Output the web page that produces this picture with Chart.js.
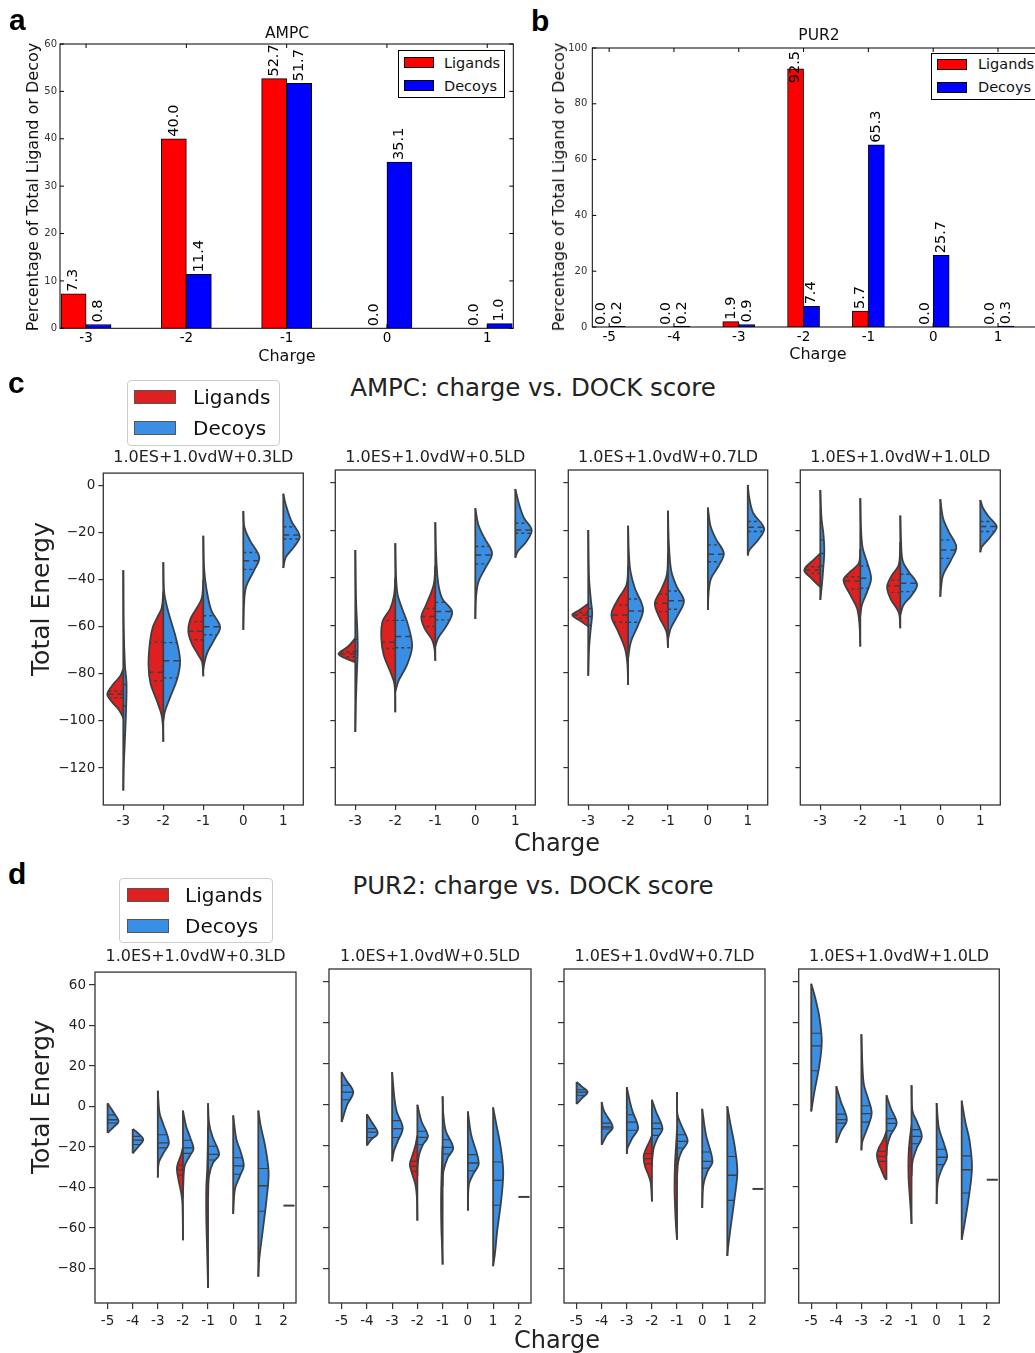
<!DOCTYPE html>
<html><head><meta charset="utf-8">
<script src="https://cdn.jsdelivr.net/npm/chart.js@4.4.1/dist/chart.umd.min.js"></script>
<style>
html,body{margin:0;padding:0;width:1035px;height:1353px;overflow:hidden;background:#fff;font-family:"DejaVu Sans",sans-serif;}
.t{position:absolute;white-space:nowrap;transform:translate(-50%,-50%);color:#111;line-height:1;}
.rot{transform:translate(-50%,-50%) rotate(-90deg);}
.pl{position:absolute;font-family:"Liberation Sans",Arial,sans-serif;font-weight:bold;font-size:30px;line-height:1;color:#000;}
canvas{position:absolute;}
.leg{position:absolute;background:#fff;box-sizing:border-box;}
.leg div{position:absolute;box-sizing:border-box;}
.leg span{position:absolute;white-space:nowrap;transform:translateY(-50%);line-height:1;color:#111;}
</style></head><body>
<script>
// ---------------- DATA ----------------
const SERIES = ['Ligands', 'Decoys'];
const SCORE_TERMS = ['1.0ES+1.0vdW+0.3LD', '1.0ES+1.0vdW+0.5LD', '1.0ES+1.0vdW+0.7LD', '1.0ES+1.0vdW+1.0LD'];

// Panel a / b: percentage of total ligands or decoys per charge
const AMPC_CHARGES = [-3, -2, -1, 0, 1];
const AMPC_LIGANDS_PCT = [7.3, 40.0, 52.7, 0.0, 0.0];
const AMPC_DECOYS_PCT = [0.8, 11.4, 51.7, 35.1, 1.0];
const AMPC_PCT_TICKS = [0, 10, 20, 30, 40, 50, 60];

const PUR2_CHARGES = [-5, -4, -3, -2, -1, 0, 1];
const PUR2_LIGANDS_PCT = [0.0, 0.0, 1.9, 92.5, 5.7, 0.0, 0.0];
const PUR2_DECOYS_PCT = [0.2, 0.2, 0.9, 7.4, 65.3, 25.7, 0.3];
const PUR2_PCT_TICKS = [0, 20, 40, 60, 80, 100];

// Panel c / d: split violins. Row = [charge, [[energy, half-width], ...], [upper quartile, median, lower quartile]]
const AMPC_VIOLIN_CHARGES = [-3, -2, -1, 0, 1];
const AMPC_ENERGY_TICKS = [0, -20, -40, -60, -80, -100, -120];

const AMPC_LIG_03 = [
  [-3, [[-78,0],[-81,0.08],[-85,0.28],[-88.7,0.40],[-92,0.28],[-95,0.12],[-98,0.02],[-99,0]], [-87.3,-88.7,-90.1]],
  [-2, [[-45,0],[-52,0.04],[-56,0.15],[-60,0.26],[-66,0.33],[-76,0.37],[-84,0.32],[-91,0.17],[-97,0.05],[-102,0.01],[-108.8,0]], [-66.5,-79.3,-83]],
  [-1, [[-40,0],[-48,0.04],[-53,0.2],[-57,0.33],[-62,0.375],[-67,0.29],[-72,0.125],[-75,0.03],[-81,0]], [-57.8,-61.9,-65.5]]
];
const AMPC_DEC_03 = [
  [-3, [[-36,0],[-60,0.01],[-76,0.04],[-84,0.08],[-95,0.07],[-108,0.04],[-120,0.01],[-129.5,0]], [-84.5,-93.6,-106]],
  [-2, [[-32.6,0],[-45,0.02],[-52,0.1],[-58,0.2],[-65,0.32],[-74.4,0.42],[-82,0.35],[-90,0.17],[-96,0.04],[-100,0]], [-66.7,-74.4,-81.7]],
  [-1, [[-21.3,0],[-35,0.02],[-44,0.08],[-53,0.2],[-60,0.42],[-65,0.29],[-71,0.1],[-76,0.02],[-78,0]], [-55.3,-60,-63.4]],
  [0, [[-10.8,0],[-17.8,0.03],[-23.4,0.17],[-30.5,0.4],[-36,0.27],[-43,0.07],[-50,0.02],[-61.3,0]], [-28.4,-31.9,-35.6]],
  [1, [[-3.5,0],[-8,0.06],[-15,0.2],[-21.6,0.41],[-26,0.27],[-30.5,0.06],[-35,0]], [-17.5,-21,-22.7]]
];
const AMPC_LIG_05 = [
  [-3, [[-65.5,0],[-69,0.18],[-72.1,0.42],[-73.8,0.27],[-75.6,0]], [-71.2,-72.1,-73.3]],
  [-2, [[-40,0],[-47.3,0.03],[-53,0.125],[-58.5,0.32],[-65.5,0.35],[-72.6,0.29],[-79.6,0.125],[-85,0.02],[-96.7,0]], [-58,-67.2,-69.8]],
  [-1, [[-35,0],[-43,0.04],[-51.5,0.23],[-56.4,0.35],[-61.3,0.27],[-66.2,0.08],[-70,0.02],[-75,0]], [-53,-56.4,-60.6]]
];
const AMPC_DEC_05 = [
  [-3, [[-28.4,0],[-50,0.02],[-62,0.05],[-70,0.06],[-80,0.04],[-92,0.015],[-105,0]], [-66,-71,-78]],
  [-2, [[-25.5,0],[-40,0.02],[-47.3,0.06],[-53,0.17],[-60,0.32],[-69,0.42],[-76.8,0.29],[-83.5,0.08],[-88,0]], [-58,-64.8,-69.5]],
  [-1, [[-16.7,0],[-30,0.02],[-42,0.07],[-48.7,0.17],[-54.3,0.42],[-60,0.29],[-65.5,0.07],[-69,0]], [-50.4,-54.3,-57.8]],
  [0, [[-10.8,0],[-18,0.08],[-23.4,0.23],[-29.8,0.42],[-36,0.25],[-41.7,0.08],[-48,0.02],[-57.4,0]], [-26.9,-30.5,-34.2]],
  [1, [[-2.7,0],[-9.4,0.1],[-15,0.22],[-20,0.41],[-25,0.27],[-29,0.06],[-31.6,0]], [-17.1,-20,-21.3]]
];
const AMPC_LIG_07 = [
  [-3, [[-51,0],[-53.5,0.21],[-55.7,0.4],[-58.2,0.2],[-60.6,0]], [-54.7,-55.7,-57.1]],
  [-2, [[-35,0],[-43,0.04],[-49,0.25],[-55.7,0.42],[-62.7,0.25],[-69.8,0.08],[-76,0.02],[-85.2,0]], [-51.5,-55.7,-58.8]],
  [-1, [[-30,0],[-38.9,0.03],[-45,0.17],[-50.8,0.33],[-57,0.21],[-62.7,0.04],[-69.5,0]], [-47,-50.8,-54.3]]
];
const AMPC_DEC_07 = [
  [-3, [[-20,0],[-40,0.02],[-50,0.07],[-55,0.1],[-62,0.06],[-70,0.02],[-81.3,0]], [-53,-56.4,-60]],
  [-2, [[-18.2,0],[-30,0.02],[-37.5,0.06],[-44.5,0.17],[-53.2,0.375],[-60,0.25],[-67,0.07],[-74,0]], [-49,-54,-58.8]],
  [-1, [[-11.8,0],[-25,0.02],[-37,0.08],[-43.5,0.21],[-49.8,0.4],[-55.7,0.25],[-61.3,0.07],[-66,0]], [-45.6,-49.7,-53.3]],
  [0, [[-10.5,0],[-18.5,0.07],[-24,0.21],[-29.8,0.4],[-35,0.27],[-40.3,0.08],[-46,0.02],[-53.6,0]], [-26.2,-30.2,-33.3]],
  [1, [[-1,0],[-6.6,0.04],[-12.9,0.14],[-19.2,0.41],[-24,0.27],[-28.4,0.04],[-30.7,0]], [-16.4,-18.8,-20.6]]
];
const AMPC_LIG_10 = [
  [-3, [[-29.8,0],[-32.5,0.17],[-36.8,0.4],[-40.5,0.21],[-44,0]], [-35.4,-36.8,-38.2]],
  [-2, [[-28,0],[-34,0.04],[-37.5,0.25],[-41,0.42],[-47.3,0.25],[-53,0.08],[-60,0.02],[-69,0]], [-39.6,-41.4,-44.8]],
  [-1, [[-25,0],[-34.7,0.04],[-39,0.21],[-43.8,0.33],[-48.7,0.25],[-54.6,0.04],[-61.3,0]], [-41,-43.4,-46.2]]
];
const AMPC_DEC_10 = [
  [-3, [[-3.1,0],[-15,0.03],[-22,0.08],[-29,0.1],[-37,0.07],[-43,0.04],[-49.4,0]], [-24.1,-29.8,-35]],
  [-2, [[-6.6,0],[-20,0.02],[-27.6,0.06],[-33.5,0.17],[-40.3,0.27],[-46,0.17],[-51.5,0.04],[-56,0]], [-35.1,-40.3,-44.5]],
  [-1, [[-13.9,0],[-25,0.02],[-33,0.06],[-37.5,0.21],[-42.8,0.42],[-47.3,0.29],[-51.5,0.08],[-55.7,0]], [-38.6,-42.4,-45.9]],
  [0, [[-7,0],[-15,0.07],[-20.6,0.21],[-27,0.4],[-32.5,0.27],[-38.9,0.07],[-44,0.02],[-48,0]], [-24.1,-28.4,-31.9]],
  [1, [[-7.3,0],[-10.8,0.07],[-14.5,0.22],[-18.5,0.41],[-22.5,0.27],[-27,0.04],[-29.3,0]], [-16.4,-18.5,-20.6]]
];

const PUR2_VIOLIN_CHARGES = [-5, -4, -3, -2, -1, 0, 1, 2];
const PUR2_ENERGY_TICKS = [60, 40, 20, 0, -20, -40, -60, -80];
const PUR2_SINGLE_CHARGE = 2;                       // decoy charge with a single observation
const PUR2_DEC_SINGLE = [-48.9, -45.1, -41.2, -36.7]; // its energy for each scoring function

const PUR2_LIG_03 = [
  [-2, [[-20,0],[-24,0.08],[-28,0.2],[-31,0.24],[-36,0.18],[-42,0.08],[-48,0.02],[-66,0]], [-29,-31.3,-33.9]],
  [-1, [[-10,0],[-30,0.03],[-40,0.07],[-55,0.07],[-70,0.04],[-80,0.02],[-89.6,0]], [-38,-48,-58]]
];
const PUR2_DEC_03 = [
  [-5, [[1.6,0],[-1.5,0.17],[-4,0.3],[-7.3,0.44],[-10,0.25],[-13,0]], [-4.1,-6.5,-8.1]],
  [-4, [[-11.1,0],[-13,0.2],[-16.3,0.42],[-19.6,0.24],[-23.1,0]], [-14.7,-16.6,-18.7]],
  [-3, [[7.8,0],[-3.3,0.07],[-8.1,0.2],[-17.9,0.44],[-22.8,0.23],[-27.7,0.04],[-35,0]], [-13.9,-17.9,-20.4]],
  [-2, [[-2,0],[-9.8,0.13],[-14.7,0.27],[-20.9,0.42],[-24.4,0.27],[-29.3,0.07],[-40,0.01],[-45,0]], [-16.6,-20.4,-23.1]],
  [-1, [[1.6,0],[-8,0.04],[-14.7,0.17],[-23.6,0.44],[-27.7,0.2],[-34.2,0.04],[-45,0]], [-19.6,-23.6,-26.4]],
  [0, [[-4.4,0],[-16.3,0.13],[-22,0.29],[-29.3,0.42],[-34.2,0.27],[-40.7,0.07],[-53,0]], [-25.3,-29.3,-33.4]],
  [1, [[-2,0],[-9.8,0.1],[-20,0.28],[-32.6,0.41],[-45.6,0.33],[-62,0.17],[-75,0.04],[-84,0]], [-30.6,-39.1,-51.7]]
];
const PUR2_LIG_05 = [
  [-2, [[-15,0],[-20,0.08],[-25,0.2],[-29.3,0.3],[-34,0.2],[-39,0.08],[-45,0.02],[-56.7,0]], [-27.7,-30.1,-32.6]],
  [-1, [[-20,0],[-30,0.03],[-45,0.06],[-60,0.05],[-70,0.02],[-78.2,0]], [-35,-45,-57]]
];
const PUR2_DEC_05 = [
  [-5, [[16,0],[12.2,0.17],[6.2,0.46],[0,0.22],[-8.5,0]], [9.5,6.2,2.4]],
  [-4, [[-4.6,0],[-8.1,0.17],[-13.9,0.43],[-17.1,0.17],[-19.9,0]], [-11.7,-13.4,-16]],
  [-3, [[16,0],[3.3,0.09],[-3.3,0.18],[-11.4,0.42],[-17.9,0.22],[-22.8,0.07],[-27.7,0]], [-7.8,-11.7,-16]],
  [-2, [[0,0],[-8.1,0.16],[-15.5,0.42],[-19.5,0.22],[-24.4,0.07],[-30,0.01],[-35,0]], [-13,-16,-19.6]],
  [-1, [[4.1,0],[-5,0.03],[-13,0.13],[-21.2,0.42],[-26,0.2],[-32.6,0.03],[-40,0]], [-17.1,-20.9,-24.1]],
  [0, [[-3.3,0],[-14.7,0.13],[-28.5,0.43],[-34.2,0.2],[-39.1,0.04],[-51.8,0]], [-24.4,-28.5,-32.3]],
  [1, [[-1.3,0],[-9.8,0.13],[-20,0.29],[-32.6,0.4],[-45.6,0.33],[-62,0.16],[-73,0.07],[-79,0]], [-28,-37,-49.2]]
];
const PUR2_LIG_07 = [
  [-2, [[-15,0],[-18,0.1],[-22,0.25],[-25.3,0.33],[-30,0.28],[-34,0.15],[-38,0.05],[-47.3,0]], [-24,-26.4,-28.8]],
  [-1, [[-12,0],[-20,0.04],[-28,0.08],[-40,0.1],[-50,0.08],[-60,0.04],[-66,0]], [-30,-38,-48]]
];
const PUR2_DEC_07 = [
  [-5, [[11.1,0],[9,0.2],[6.2,0.44],[3,0.2],[0.3,0]], [7.3,6.2,4.6]],
  [-4, [[1.3,0],[-3.3,0.1],[-10.9,0.44],[-14.7,0.21],[-19.6,0]], [-9,-10.9,-11.9]],
  [-3, [[8.6,0],[3.3,0.09],[-3,0.22],[-11.4,0.45],[-16.3,0.22],[-21.2,0.03],[-24,0]], [-4.9,-8.5,-12.5]],
  [-2, [[2.4,0],[-3.3,0.16],[-11.7,0.42],[-16.3,0.22],[-21.2,0.07],[-27,0.01],[-30,0]], [-9,-11.7,-15]],
  [-1, [[6.2,0],[-5,0.02],[-11.4,0.22],[-17.9,0.42],[-22.8,0.18],[-27.7,0.05],[-35,0]], [-14.7,-17.9,-21.2]],
  [0, [[-2,0],[-14.7,0.15],[-27.7,0.41],[-32.6,0.21],[-39.1,0.05],[-50.5,0]], [-23.1,-27.7,-31]],
  [1, [[-0.8,0],[-9.8,0.13],[-20,0.29],[-32.6,0.4],[-45.6,0.29],[-60.3,0.13],[-70,0.03],[-74,0]], [-25.3,-34.5,-46.8]]
];
const PUR2_LIG_10 = [
  [-2, [[-13,0],[-17,0.12],[-21,0.3],[-24.4,0.38],[-28,0.33],[-32,0.2],[-36,0.06],[-36.7,0]], [-22.8,-25.3,-27.7]],
  [-1, [[-10,0],[-18,0.08],[-25,0.12],[-35,0.12],[-45,0.07],[-52,0.03],[-58.3,0]], [-22,-30,-40]]
];
const PUR2_DEC_10 = [
  [-5, [[59.2,0],[52.2,0.16],[42.4,0.33],[31,0.42],[19.6,0.33],[6.5,0.13],[-3.3,0]], [35,28.8,16.6]],
  [-4, [[9,0],[1.6,0.18],[-7.3,0.42],[-13,0.18],[-18.7,0]], [-4.6,-7.3,-9]],
  [-3, [[34.5,0],[19.6,0.04],[9.8,0.1],[3.3,0.26],[-4.1,0.41],[-11.4,0.24],[-17.9,0.04],[-22.3,0]], [-0.5,-4.4,-8.5]],
  [-2, [[4.6,0],[-1.6,0.17],[-9,0.41],[-14.7,0.17],[-19.6,0.04],[-25,0]], [-6.8,-9.1,-12.7]],
  [-1, [[9.5,0],[-3.3,0.04],[-8.1,0.21],[-15.5,0.41],[-21.2,0.21],[-27.7,0.04],[-35,0]], [-12.2,-15.5,-19.1]],
  [0, [[0.8,0],[-11.4,0.09],[-19,0.29],[-25.7,0.42],[-31,0.22],[-37.5,0.05],[-48.6,0]], [-21.8,-25.7,-29.3]],
  [1, [[2,0],[-8.1,0.14],[-18,0.32],[-31,0.41],[-45.6,0.28],[-58.7,0.11],[-66,0]], [-25,-31.8,-43.2]]
];

// ---------------- STYLE / LAYOUT ----------------
const BAR_RED = '#ff0000', BAR_BLUE = '#0000ff';
const V_RED = '#df2020', V_BLUE = '#3a8ee3', EDGE = '#3f3f3f';
Chart.defaults.font.family = '"DejaVu Sans", sans-serif';
Chart.defaults.color = '#222';

function txt(s, cx, cy, size, extra) {
  const d = document.createElement('div');
  d.className = 't' + (extra && extra.rot ? ' rot' : '');
  d.textContent = s;
  d.style.left = cx + 'px'; d.style.top = cy + 'px'; d.style.fontSize = size + 'px';
  if (extra && extra.color) d.style.color = extra.color;
  document.body.appendChild(d);
}
function panelLetter(s, x, y) {
  const d = document.createElement('div'); d.className = 'pl'; d.textContent = s;
  d.style.left = x + 'px'; d.style.top = y + 'px'; document.body.appendChild(d);
}
function legend(x, y, w, h, o) {
  const box = document.createElement('div'); box.className = 'leg';
  Object.assign(box.style, {left: x + 'px', top: y + 'px', width: w + 'px', height: h + 'px', border: o.border, borderRadius: o.radius + 'px'});
  SERIES.forEach((name, i) => {
    const sw = document.createElement('div');
    Object.assign(sw.style, {left: o.sx + 'px', top: (o.sy + i * o.dy) + 'px', width: o.sw + 'px', height: o.sh + 'px', background: o.colors[i], border: o.swBorder});
    box.appendChild(sw);
    const sp = document.createElement('span'); sp.textContent = name;
    Object.assign(sp.style, {left: o.tx + 'px', top: (o.ty + i * o.dy) + 'px', fontSize: o.font + 'px'});
    box.appendChild(sp);
  });
  document.body.appendChild(box);
}

function framePlugin(color, width, inTick) {
  return {
    id: 'frame',
    afterDatasetsDraw(chart) {
      const {ctx, chartArea: a} = chart;
      ctx.save(); ctx.strokeStyle = color; ctx.lineWidth = width;
      ctx.strokeRect(a.left, a.top, a.right - a.left, a.bottom - a.top);
      if (inTick) {
        const xs = chart.scales.x, ys = chart.scales.y;
        ctx.beginPath();
        xs.ticks.forEach(t => { const p = xs.getPixelForValue(t.value);
          ctx.moveTo(p, a.bottom); ctx.lineTo(p, a.bottom - inTick); ctx.moveTo(p, a.top); ctx.lineTo(p, a.top + inTick); });
        ys.ticks.forEach(t => { const p = ys.getPixelForValue(t.value);
          ctx.moveTo(a.left, p); ctx.lineTo(a.left + inTick, p); ctx.moveTo(a.right, p); ctx.lineTo(a.right - inTick, p); });
        ctx.stroke();
      }
      ctx.restore();
    }
  };
}
const barValueLabels = {
  id: 'barValueLabels',
  afterDatasetsDraw(chart) {
    const {ctx, chartArea: a} = chart;
    ctx.save(); ctx.font = '14.5px "DejaVu Sans"'; ctx.fillStyle = '#000';
    ctx.textBaseline = 'middle'; ctx.textAlign = 'left';
    chart.data.datasets.forEach((ds, di) => {
      chart.getDatasetMeta(di).data.forEach((bar, i) => {
        const s = ds.data[i].y.toFixed(1);
        const w = ctx.measureText(s).width;
        let start = bar.y - 2;
        if (start - w < a.top - 2) start = a.top + 3 + w;
        ctx.save(); ctx.translate(bar.x, start); ctx.rotate(-Math.PI / 2); ctx.fillText(s, 0, 0); ctx.restore();
      });
    });
    ctx.restore();
  }
};

function makeChart(area, leftRoom, bottomRoom, config) {
  const L = Math.floor(area[0] - leftRoom), T = Math.floor(area[1] - 8);
  const R = Math.ceil(area[2] + 8), B = Math.ceil(area[3] + bottomRoom);
  const cv = document.createElement('canvas');
  cv.width = R - L; cv.height = B - T;
  Object.assign(cv.style, {left: L + 'px', top: T + 'px', width: (R - L) + 'px', height: (B - T) + 'px'});
  document.body.appendChild(cv);
  const yW = area[0] - L, xH = B - area[3];
  config.options.layout = {padding: {left: 0, top: area[1] - T, right: R - area[2], bottom: 0}};
  config.options.scales.x.afterFit = s => { s.height = xH; };
  config.options.scales.y.afterFit = s => { s.width = yW; };
  Object.assign(config.options, {responsive: false, animation: false, devicePixelRatio: 1, events: []});
  config.options.plugins = {legend: {display: false}, tooltip: {enabled: false}, title: {display: false}};
  return new Chart(cv, config);
}

// ---------------- PANELS a, b ----------------
function barPanel(area, charges, lig, dec, yTicks, xMin, xMax, thick, yPad) {
  const noGrid = {display: false, drawTicks: false, tickLength: 0};
  makeChart(area, area[0] - 1, 24, {
    type: 'bar',
    data: {datasets: [
      {label: SERIES[0], data: charges.map((c, i) => ({x: c, y: lig[i]})), backgroundColor: BAR_RED, borderColor: '#000', borderWidth: 1, barThickness: thick},
      {label: SERIES[1], data: charges.map((c, i) => ({x: c, y: dec[i]})), backgroundColor: BAR_BLUE, borderColor: '#000', borderWidth: 1, barThickness: thick}
    ]},
    options: {scales: {
      x: {type: 'linear', min: xMin, max: xMax, offset: false, bounds: 'data', grid: noGrid, border: {display: false},
          afterBuildTicks: s => { s.ticks = charges.map(v => ({value: v})); },
          ticks: {autoSkip: false, maxRotation: 0, padding: 2, color: '#000', font: {size: 13.5}, callback: v => String(v)}},
      y: {min: yTicks[0], max: yTicks[yTicks.length - 1], bounds: 'data', grid: noGrid, border: {display: false},
          afterBuildTicks: s => { s.ticks = yTicks.map(v => ({value: v})); },
          ticks: {padding: yPad, color: '#333', font: {size: 10}, callback: v => String(v)}}
    }},
    plugins: [framePlugin('#000', 1, 4), barValueLabels]
  });
}
barPanel([60, 43.3, 513.3, 328.3], AMPC_CHARGES, AMPC_LIGANDS_PCT, AMPC_DECOYS_PCT, AMPC_PCT_TICKS, -3.26, 1.26, 25, 3);
barPanel([592.3, 45, 1044, 327], PUR2_CHARGES, PUR2_LIGANDS_PCT, PUR2_DECOYS_PCT, PUR2_PCT_TICKS, -5.26, 1.71, 16, 5);

panelLetter('a', 9, 5); panelLetter('b', 531, 6);
txt('AMPC', 287, 34, 15.5); txt('PUR2', 819, 36, 15.5);
txt('Percentage of Total Ligand or Decoy', 33, 187, 16, {rot: true});
txt('Percentage of Total Ligand or Decoy', 559, 187, 16, {rot: true});
txt('Charge', 287, 356, 16); txt('Charge', 818, 354, 16);
const barLeg = {border: '1px solid #000', radius: 0, sw: 30, sh: 11, dy: 23, colors: [BAR_RED, BAR_BLUE], swBorder: '1px solid #000', font: 14.5};
legend(398, 50, 107, 48, Object.assign({sx: 5, sy: 6, tx: 45, ty: 12}, barLeg));
legend(931, 53, 112, 47, Object.assign({sx: 5, sy: 5, tx: 46, ty: 10}, barLeg));

// ---------------- PANELS c, d ----------------
function widthAt(prof, y) {
  for (let i = 0; i < prof.length - 1; i++) {
    const [y0, w0] = prof[i], [y1, w1] = prof[i + 1];
    if (y <= y0 && y >= y1) { const t = (y0 - y) / ((y0 - y1) || 1); return w0 + (w1 - w0) * t; }
  }
  return 0;
}
function fmtEnergy(v) { return v < 0 ? '\u2212' + Math.abs(v) : String(v); }

function violinPanel(area, leftRoom, charges, yTicks, yMin, yMax, lig, dec, single, showY, tickLen, xPad, dashed) {
  const datasets = [], med = [], qrt = [], ctr = [], ext = new Map();
  [[lig, -1, V_RED], [dec, 1, V_BLUE]].forEach(([rows, sgn, col]) => {
    rows.forEach(([c, prof, q]) => {
      datasets.push({data: prof.map(([y, w]) => ({x: c + sgn * w, y: y})), fill: 'shape', backgroundColor: col,
        borderColor: EDGE, borderWidth: 1.8, borderJoinStyle: 'round', pointRadius: 0, tension: 0.35, order: 3});
      const e = ext.get(c) || [Infinity, -Infinity];
      prof.forEach(([y]) => { e[0] = Math.min(e[0], y); e[1] = Math.max(e[1], y); });
      ext.set(c, e);
      q.forEach((v, k) => { (k === 1 ? med : qrt).push({x: c, y: v}, {x: c + sgn * widthAt(prof, v), y: v}, {x: null, y: null}); });
    });
  });
  ext.forEach((e, c) => ctr.push({x: c, y: e[1]}, {x: c, y: e[0]}, {x: null, y: null}));
  const lineDs = (data, w, dash, order) => ({data, borderColor: EDGE, borderWidth: w, borderDash: dash, pointRadius: 0, tension: 0, fill: false, spanGaps: false, order});
  datasets.push(lineDs(ctr, 1.8, [], 2));
  datasets.push(lineDs(qrt, dashed ? 1.4 : 1.1, dashed ? [3, 3] : [], 1));
  datasets.push(lineDs(med, dashed ? 1.5 : 1.3, dashed ? [6, 4] : [], 1));
  if (single != null) datasets.push(lineDs([{x: PUR2_SINGLE_CHARGE, y: single}, {x: PUR2_SINGLE_CHARGE + 0.44, y: single}], 2, [], 1));
  const step = 0.5;
  makeChart(area, leftRoom, 34, {
    type: 'line',
    data: {datasets},
    options: {scales: {
      x: {type: 'linear', min: charges[0] - step, max: charges[charges.length - 1] + step, bounds: 'data', offset: false,
          grid: {display: true, drawOnChartArea: false, drawTicks: true, tickLength: tickLen, color: '#333', lineWidth: 1.2}, border: {display: false},
          afterBuildTicks: s => { s.ticks = charges.map(v => ({value: v})); },
          ticks: {autoSkip: false, maxRotation: 0, padding: xPad, color: '#222', font: {size: 13.5}, callback: v => String(v)}},
      y: {min: yMin, max: yMax, bounds: 'data',
          grid: {display: true, drawOnChartArea: false, drawTicks: true, tickLength: tickLen, color: '#333', lineWidth: 1.2}, border: {display: false},
          afterBuildTicks: s => { s.ticks = yTicks.map(v => ({value: v})); },
          ticks: {display: showY, padding: 3, color: '#222', font: {size: 13.5}, callback: v => fmtEnergy(v)}}
    }},
    plugins: [framePlugin('#333', 1.3, 0)]
  });
}

const C_AREAS = [[103.3, 470, 303.3, 805], [335.3, 470, 535.3, 805], [568.3, 470, 767.7, 805], [800.3, 470, 1000.3, 805]];
const C_LIG = [AMPC_LIG_03, AMPC_LIG_05, AMPC_LIG_07, AMPC_LIG_10];
const C_DEC = [AMPC_DEC_03, AMPC_DEC_05, AMPC_DEC_07, AMPC_DEC_10];
C_AREAS.forEach((a, i) => {
  violinPanel(a, i === 0 ? 55 : 10, AMPC_VIOLIN_CHARGES, AMPC_ENERGY_TICKS, -135.7, 5.3, C_LIG[i], C_DEC[i], null, i === 0, 5, 3, true);
  txt(SCORE_TERMS[i], (a[0] + a[2]) / 2, 457, 16, {color: '#222'});
});
const D_AREAS = [[95, 969, 296, 1303], [329, 969, 531, 1303], [564, 969, 765, 1303], [798.7, 969, 999.3, 1303]];
const D_LIG = [PUR2_LIG_03, PUR2_LIG_05, PUR2_LIG_07, PUR2_LIG_10];
const D_DEC = [PUR2_DEC_03, PUR2_DEC_05, PUR2_DEC_07, PUR2_DEC_10];
D_AREAS.forEach((a, i) => {
  violinPanel(a, i === 0 ? 50 : 10, PUR2_VIOLIN_CHARGES, PUR2_ENERGY_TICKS, -97, 66.4, D_LIG[i], D_DEC[i], PUR2_DEC_SINGLE[i], i === 0, 6, 4, false);
  txt(SCORE_TERMS[i], (a[0] + a[2]) / 2, 956, 16, {color: '#222'});
});

panelLetter('c', 8, 368); panelLetter('d', 8, 859);
txt('AMPC: charge vs. DOCK score', 533, 388, 24.5, {color: '#222'});
txt('PUR2: charge vs. DOCK score', 533, 886, 24.5, {color: '#222'});
txt('Total Energy', 40, 599, 25, {rot: true, color: '#222'});
txt('Total Energy', 40, 1097, 25, {rot: true, color: '#222'});
txt('Charge', 557, 843, 24, {color: '#222'});
txt('Charge', 557, 1340, 24, {color: '#222'});
const vLeg = {border: '1px solid #cccccc', radius: 4, sw: 42, sh: 14, dy: 31, colors: [V_RED, V_BLUE], swBorder: '1px solid #555', font: 20};
legend(127, 380, 153, 66, Object.assign({sx: 6, sy: 9, tx: 65, ty: 16}, vLeg));
legend(119, 878, 154, 65, Object.assign({sx: 7, sy: 9, tx: 65, ty: 16, dy: 30}, vLeg));
</script>
</body></html>
